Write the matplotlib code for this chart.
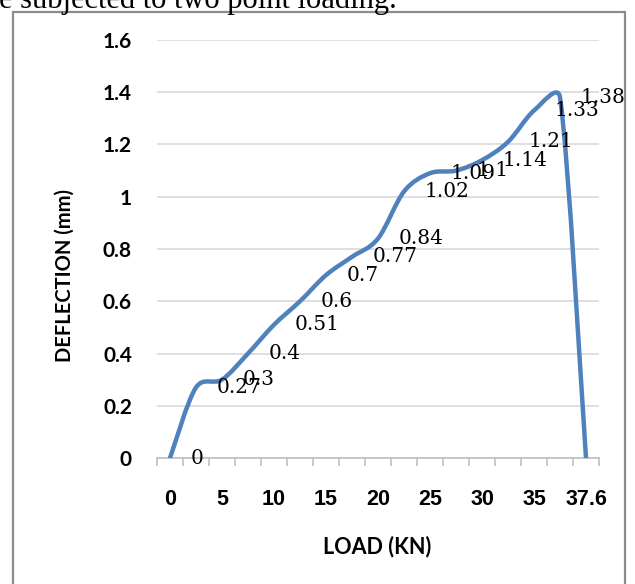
import numpy as np
import matplotlib
matplotlib.use('Agg')
import matplotlib.pyplot as plt
from matplotlib.path import Path
from matplotlib.patches import PathPatch, Rectangle

loads = ['0', '2.5', '5', '7.5', '10', '12.5', '15', '17.5', '20', '22.5',
         '25', '27.5', '30', '32.5', '35', '37.5', '37.6']
deflection = [0, 0.27, 0.3, 0.4, 0.51, 0.6, 0.7, 0.77, 0.84, 1.02,
              1.09, 1.1, 1.14, 1.21, 1.33, 1.38, 0]
point_labels = ['0', '0.27', '0.3', '0.4', '0.51', '0.6', '0.7', '0.77', '0.84', '1.02',
                '1.09', '1.1', '1.14', '1.21', '1.33', '1.38', '']
shown_ticks = ['0', '5', '10', '15', '20', '25', '30', '35', '37.6']

W, H = 635, 584
fig = plt.figure(figsize=(W / 100, H / 100), dpi=100)

# document caption cut off at the top + chart border
fig.text(-1 / W, 1 - 8 / H, 'e subjected to two point loading.', family='Liberation Serif',
         fontsize=22, ha='left', va='baseline')
fig.patches.append(Rectangle((13 / W, -0.05), (625 - 13) / W, 1.05 - 12 / H,
                             transform=fig.transFigure, fill=False,
                             edgecolor='#8c8c8c', linewidth=1.6))

ax = fig.add_axes([157 / W, (H - 458) / H, (599 - 157) / W, (458 - 40) / H])
ax.set_xlim(-0.5, len(loads) - 0.5)
ax.set_ylim(0, 1.6)

x = np.arange(len(deflection))
y = np.array(deflection, dtype=float)

# Excel-like smoothed line: bezier built in screen space, control arms capped
pts = ax.transData.transform(np.column_stack([x, y]))
n = len(pts)
verts = [pts[0]]
codes = [Path.MOVETO]
for i in range(n - 1):
    p0 = pts[max(i - 1, 0)]
    p1 = pts[i]
    p2 = pts[i + 1]
    p3 = pts[min(i + 2, n - 1)]
    d12 = np.hypot(*(p2 - p1))
    d02 = np.hypot(*(p2 - p0))
    d13 = np.hypot(*(p3 - p1))
    f1 = min(1 / 6, d12 / (2 * d02)) if d02 > 0 else 0
    f2 = min(1 / 6, d12 / (2 * d13)) if d13 > 0 else 0
    verts += [p1 + (p2 - p0) * f1, p2 - (p3 - p1) * f2, p2]
    codes += [Path.CURVE4] * 3
verts = ax.transData.inverted().transform(np.array(verts))
ax.add_patch(PathPatch(Path(verts, codes), fill=False, edgecolor='#4f81bd',
                       linewidth=3.2, capstyle='round', joinstyle='round', zorder=3))

for xi, yi, lab in zip(x, y, point_labels):
    if lab:
        ax.annotate(lab, (xi, yi), xytext=(15, 0), textcoords='offset points',
                    ha='left', va='center', family='DejaVu Serif', fontsize=14.5,
                    annotation_clip=False, zorder=4)

ax.set_yticks(np.arange(0, 1.61, 0.2))
ax.set_yticklabels(['0', '0.2', '0.4', '0.6', '0.8', '1', '1.2', '1.4', '1.6'],
                   family='Lato', fontweight='bold', fontsize=15)
ax.tick_params(axis='y', length=0, pad=18)
ax.yaxis.grid(True, color='#d9d9d9', linewidth=1.2)
ax.set_axisbelow(True)

label_pos = [i for i, l in enumerate(loads) if l in shown_ticks]
ax.set_xticks(label_pos)
ax.set_xticklabels([loads[i] for i in label_pos], family='Liberation Sans',
                   fontweight='bold', fontsize=15.5)
ax.set_xticks(np.arange(-0.5, len(loads), 1), minor=True)
ax.tick_params(axis='x', which='major', length=0, pad=22)
ax.tick_params(axis='x', which='minor', length=6, color='#bfbfbf', width=1.2)

for s in ['top', 'right', 'left']:
    ax.spines[s].set_visible(False)
ax.spines['bottom'].set_color('#bfbfbf')
ax.spines['bottom'].set_linewidth(1.2)

fig.text(65 / W, 1 - 276 / H, 'DEFLECTION (mm)', rotation=90, ha='center', va='center',
         family='Lato', fontweight='bold', fontsize=14.5)
fig.text(377 / W, 1 - 547 / H, 'LOAD (KN)', ha='center', va='center',
         family='Lato', fontweight='bold', fontsize=15.5)

fig.savefig('out.png', dpi=100)
